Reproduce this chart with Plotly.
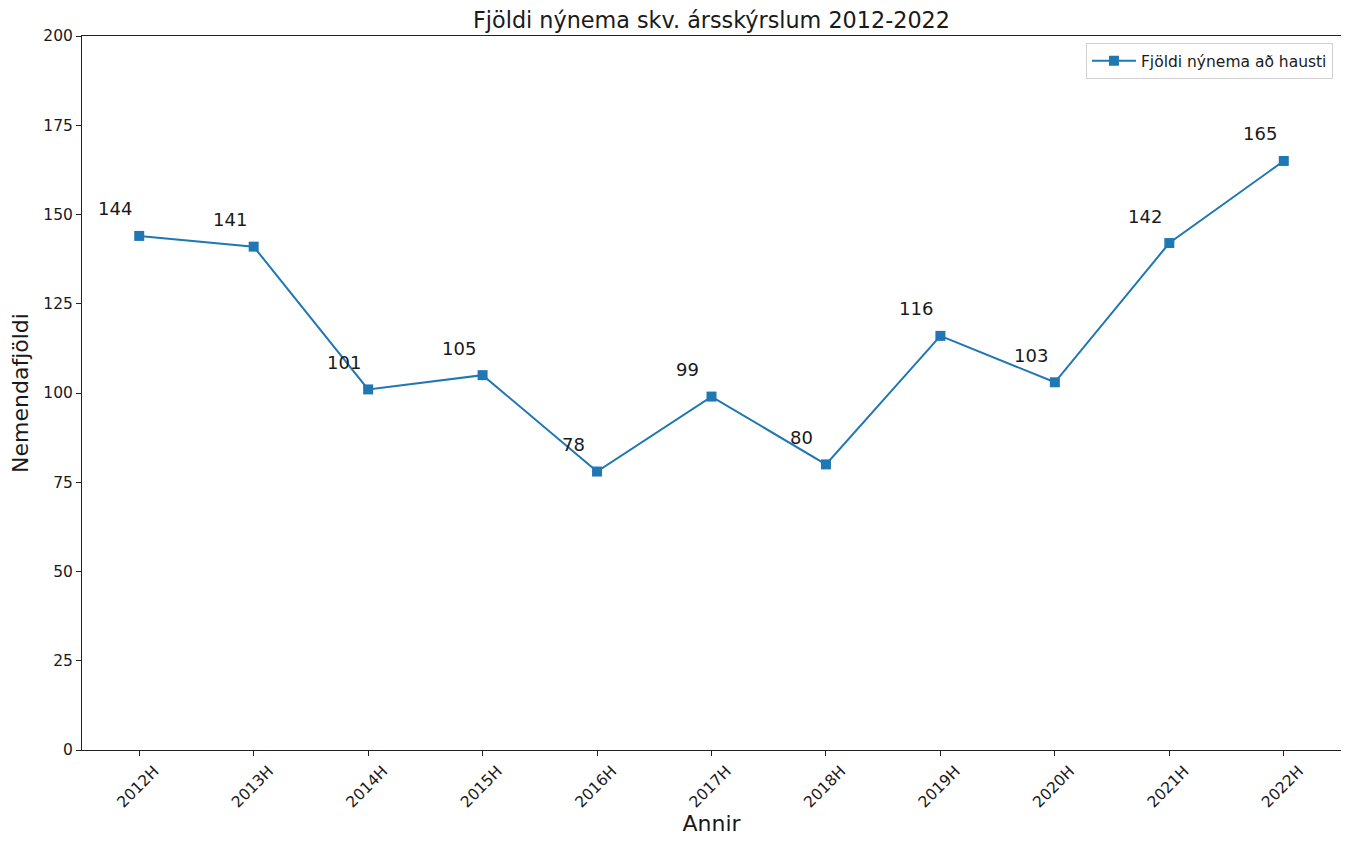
import plotly.graph_objects as go

years = ["2012H", "2013H", "2014H", "2015H", "2016H", "2017H", "2018H", "2019H", "2020H", "2021H", "2022H"]
values = [144, 141, 101, 105, 78, 99, 80, 116, 103, 142, 165]
y_ticks = [0, 25, 50, 75, 100, 125, 150, 175, 200]

color = "#1f77b4"
font = "DejaVu Sans, sans-serif"

fig = go.Figure()
fig.add_trace(go.Scatter(
    x=years, y=values, mode="lines+markers",
    name="Fjöldi nýnema að hausti",
    line=dict(color=color, width=2),
    marker=dict(symbol="square", size=10, color=color),
))

for x, v in zip(years, values):
    fig.add_annotation(x=x, y=v, text=str(v), showarrow=False,
                       xshift=-24, yshift=27,
                       font=dict(family=font, size=18, color="#1a1a1a"))

axis_common = dict(showline=True, linecolor="#222", linewidth=1, mirror=True,
                   ticks="outside", ticklen=5, tickcolor="#222", showgrid=False,
                   zeroline=False, automargin=False,
                   tickfont=dict(family=font, size=15.5, color="#1a1a1a"))

fig.update_layout(
    width=1341, height=833,
    margin=dict(l=74, r=8, t=28, b=91),
    plot_bgcolor="white", paper_bgcolor="white",
    title=dict(text="Fjöldi nýnema skv. ársskýrslum 2012-2022", x=0.5, xref="paper",
               y=1, yref="container", yanchor="top", pad=dict(t=4), automargin=False,
               font=dict(family=font, size=22.3, color="#1a1a1a")),
    xaxis=dict(range=[-0.5, 10.5], tickangle=-45, ticklabelshift=15,
               title=dict(text="Annir", font=dict(family=font, size=22, color="#1a1a1a"), standoff=4),
               **axis_common),
    yaxis=dict(range=[0, 200], tickvals=y_ticks,
               title=dict(text="Nemendafjöldi", font=dict(family=font, size=22, color="#1a1a1a"), standoff=10),
               **axis_common),
    showlegend=True,
    legend=dict(x=0.9936, y=0.990, xanchor="right", yanchor="top", itemwidth=44,
                bordercolor="#d0d0d0", borderwidth=1, bgcolor="white",
                font=dict(family=font, size=15.5, color="#1a1a1a")),
)

fig.write_html("out.html")
